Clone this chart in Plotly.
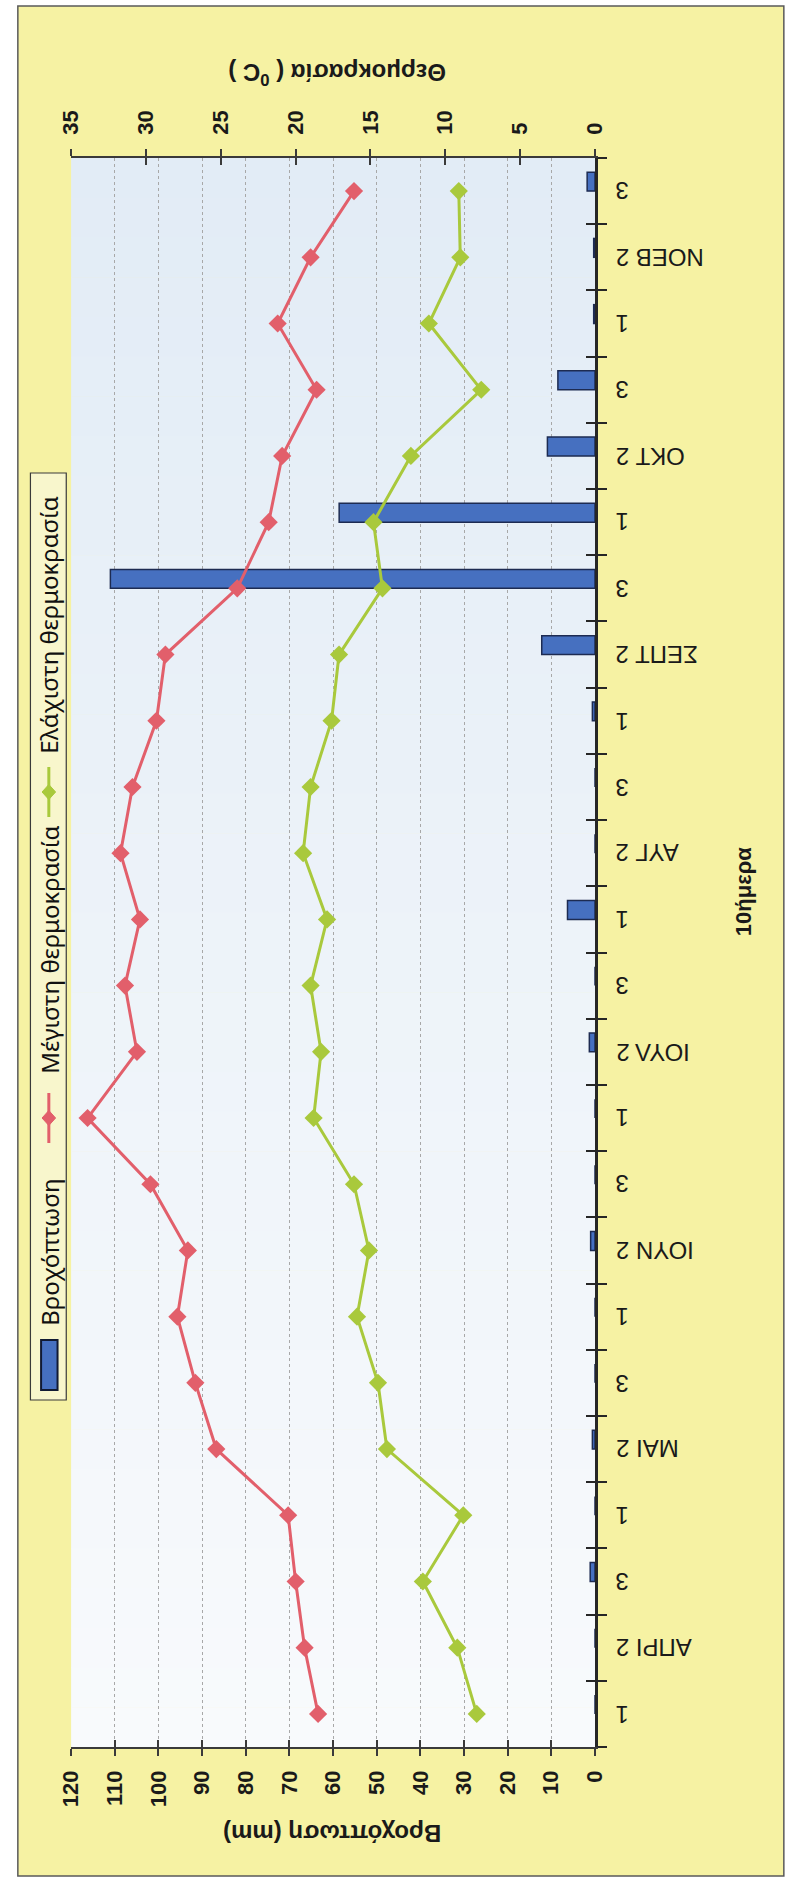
import plotly.graph_objects as go

W, H = 791, 1880

# ten-day periods (δεκαήμερα) April - November
months = ["ΑΠΡΙ", "ΜΑΙ", "ΙΟΥΝ", "ΙΟΥΛ", "ΑΥΓ", "ΣΕΠΤ", "ΟΚΤ", "ΝΟΕΒ"]
dekads = ["1", "2", "3"]

rain_mm = [0, 0, 1.1, 0, 0.6, 0, 0, 1.0, 0, 0, 1.3, 0,
           6.3, 0, 0, 0.6, 12.2, 111, 58.6, 10.9, 8.5, 0.3, 0.3, 1.8]
t_max = [18.5, 19.4, 20.0, 20.5, 25.3, 26.7, 27.9, 27.2, 29.7, 33.9, 30.6, 31.4,
         30.4, 31.7, 30.9, 29.3, 28.7, 23.9, 21.8, 20.9, 18.6, 21.2, 19.0, 16.1]
t_min = [7.9, 9.2, 11.5, 8.8, 13.9, 14.5, 15.9, 15.1, 16.1, 18.8, 18.3, 19.0,
         17.9, 19.5, 19.0, 17.6, 17.1, 14.2, 14.8, 12.3, 7.6, 11.1, 9.0, 9.1]

cat_keys = [f"{m} {d}" for m in months for d in dekads]
cat_text = [f"{m} {d}" if d == "2" else d for m in months for d in dekads]

series_names = ["Βροχόπτωση", "Μέγιστη θερμοκρασία", "Ελάχιστη θερμοκρασία"]
BLUE, BLUE_EDGE = "#4670c0", "#1d2b52"
RED, GREEN = "#e25f6b", "#a9c93c"

FONT = "Liberation Sans"


def px(x):
    return x / W


def py(y):
    return 1 - y / H


# plot rectangle in page pixels
PL, PR, PT, PB = 60, 601, 158, 1747

fig = go.Figure()

fig.add_trace(go.Bar(
    y=cat_keys, x=rain_mm, orientation="h", name=series_names[0],
    xaxis="x", yaxis="y", width=0.285, offset=0,
    marker=dict(color=BLUE, line=dict(color=BLUE_EDGE, width=1.5)),
))
fig.add_trace(go.Scatter(
    y=cat_keys, x=t_max, name=series_names[1], mode="lines+markers",
    xaxis="x2", yaxis="y",
    line=dict(color=RED, width=3), marker=dict(symbol="diamond", size=14, color=RED),
))
fig.add_trace(go.Scatter(
    y=cat_keys, x=t_min, name=series_names[2], mode="lines+markers",
    xaxis="x2", yaxis="y",
    line=dict(color=GREEN, width=3), marker=dict(symbol="diamond", size=14, color=GREEN),
))
# empty carriers so the inner tick axes get drawn
fig.add_trace(go.Scatter(x=[], y=[], xaxis="x3", yaxis="y2", showlegend=False, hoverinfo="skip"))
fig.add_trace(go.Scatter(x=[], y=[], xaxis="x4", yaxis="y2", showlegend=False, hoverinfo="skip"))

shapes = []
# yellow chart sheet with frame
shapes.append(dict(type="rect", xref="paper", yref="paper", layer="below",
                   x0=px(5), x1=px(W + 5), y0=py(1876), y1=py(6),
                   fillcolor="#f6f2a3", line=dict(color="#5a5a5a", width=1.5)))
# plot background: pale blue fading to white downwards
n_bands = 40
top_rgb, bot_rgb = (226, 236, 246), (248, 250, 252)
band_h = (PB - PT) / n_bands
for k in range(n_bands):
    t = k / (n_bands - 1)
    c = tuple(round(a + (b - a) * t) for a, b in zip(top_rgb, bot_rgb))
    shapes.append(dict(type="rect", xref="paper", yref="paper", layer="below",
                       x0=px(PL), x1=px(PR), y0=py(PT + (k + 1) * band_h + 0.5),
                       y1=py(PT + k * band_h), fillcolor="rgb(%d,%d,%d)" % c,
                       line=dict(width=0)))

# legend (vertical, reading upwards) at the left side
shapes.append(dict(type="rect", xref="paper", yref="paper",
                   x0=px(18), x1=px(55), y0=py(1400), y1=py(473),
                   fillcolor="#f8f6cc", line=dict(color="#3a3a3a", width=1.2)))
shapes.append(dict(type="rect", xref="paper", yref="paper",
                   x0=px(29), x1=px(46), y0=py(1390), y1=py(1340),
                   fillcolor=BLUE, line=dict(color="#111a33", width=2)))


def legend_line_key(yc, color):
    out = [dict(type="line", xref="paper", yref="paper",
                x0=px(37), x1=px(37), y0=py(yc + 25), y1=py(yc - 25),
                line=dict(color=color, width=3))]
    d = "M {a},{b} L {c},{e} L {a},{f} L {g},{e} Z".format(
        a=px(37), b=py(yc - 7.5), c=px(44), e=py(yc), f=py(yc + 7.5), g=px(30))
    out.append(dict(type="path", xref="paper", yref="paper", path=d,
                    fillcolor=color, line=dict(color=color, width=1)))
    return out


shapes += legend_line_key(1118, RED)
shapes += legend_line_key(792, GREEN)

annotations = []
legend_font = dict(family="Noto Sans", size=24, color="#111111")
for name, yc in zip(series_names, [1252, 950, 625]):
    annotations.append(dict(text=name, xref="paper", yref="paper", x=px(37), y=py(yc),
                            xanchor="center", yanchor="middle", textangle=-90,
                            showarrow=False, font=legend_font))

# category labels, upside down beside the category axis
for key, txt in zip(cat_keys, cat_text):
    annotations.append(dict(text=txt, xref="paper", yref="y", x=px(620), y=key,
                            xanchor="left", yanchor="middle", textangle=180,
                            showarrow=False,
                            font=dict(family=FONT, size=24, color="#1a1a1a")))

title_font = dict(family=FONT, size=24, color="#1a1a1a", weight="bold")
annotations.append(dict(text="Θερμοκρασία ( <sup>0</sup>C )", xref="paper", yref="paper",
                        x=px(334), y=py(74), xanchor="center", yanchor="middle",
                        textangle=180, showarrow=False, font=title_font))
annotations.append(dict(text="Βροχόπτωση (mm)", xref="paper", yref="paper",
                        x=px(330), y=py(1834), xanchor="center", yanchor="middle",
                        textangle=180, showarrow=False, font=title_font))
annotations.append(dict(text="10ήμερα", xref="paper", yref="paper",
                        x=px(755), y=py(892), xanchor="center", yanchor="middle",
                        textangle=-90, showarrow=False,
                        font=dict(family=FONT, size=22, color="#1a1a1a", weight="bold")))

tick_font = dict(family=FONT, size=22, color="#1a1a1a", weight="bold")
x_dom = [px(PL), px(PR)]
y_dom = [py(PB), py(PT)]

fig.update_layout(
    width=W, height=H, margin=dict(l=0, r=0, t=0, b=0),
    paper_bgcolor="white", plot_bgcolor="rgba(0,0,0,0)",
    showlegend=False, hovermode=False,
    shapes=shapes, annotations=annotations,
    xaxis=dict(domain=x_dom, anchor="y", side="bottom", range=[120, 0],
               tick0=0, dtick=10, showgrid=True, gridcolor="#a8a8a8", griddash="dot",
               gridwidth=1, zeroline=False, showline=True, linecolor="#3a3a3a",
               linewidth=1.5, ticks="outside", ticklen=7, tickwidth=1.5,
               tickcolor="#3a3a3a", tickangle=-90, tickfont=tick_font,
               ticklabelstandoff=6),
    xaxis2=dict(overlaying="x", anchor="y", side="top", range=[35, 0],
                tick0=0, dtick=5, showgrid=False, zeroline=False, showline=True,
                linecolor="#3a3a3a", linewidth=1.5, ticks="outside", ticklen=7,
                tickwidth=1.5, tickcolor="#3a3a3a", tickangle=-90,
                tickfont=tick_font, ticklabelstandoff=10),
    xaxis3=dict(overlaying="x", anchor="y", side="bottom", range=[120, 0],
                tick0=0, dtick=10, showgrid=False, zeroline=False, showline=False,
                ticks="inside", ticklen=7, tickwidth=1.5, tickcolor="#3a3a3a",
                showticklabels=False),
    xaxis4=dict(overlaying="x", anchor="y", side="top", range=[35, 0],
                tick0=0, dtick=5, showgrid=False, zeroline=False, showline=False,
                ticks="inside", ticklen=7, tickwidth=1.5, tickcolor="#3a3a3a",
                showticklabels=False),
    yaxis=dict(domain=y_dom, anchor="x", side="right", type="category",
               categoryorder="array", categoryarray=cat_keys,
               range=[-0.5, len(cat_keys) - 0.5], showgrid=False, zeroline=False,
               showline=True, linecolor="#262626", linewidth=3,
               ticks="outside", tickson="boundaries", ticklen=9, tickwidth=2,
               tickcolor="#262626", showticklabels=False),
    yaxis2=dict(overlaying="y", anchor="x", side="right",
                range=[-0.5, len(cat_keys) - 0.5], tick0=-0.5, dtick=1,
                showgrid=False, zeroline=False, showline=False,
                ticks="inside", ticklen=9, tickwidth=2, tickcolor="#262626",
                showticklabels=False),
)

fig.write_html("out.html")
